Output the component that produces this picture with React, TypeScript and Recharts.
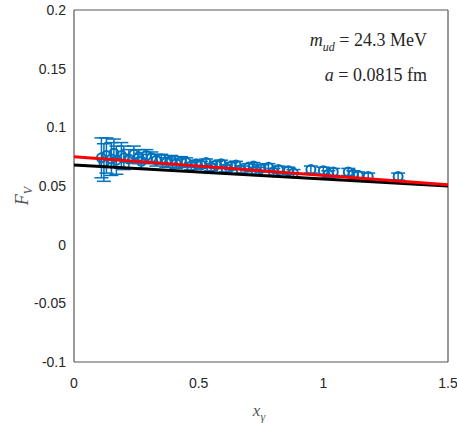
import React from 'react';
import { ScatterChart, Scatter, XAxis, YAxis, ErrorBar } from 'recharts';

const xGamma = [0.11, 0.12, 0.13, 0.15, 0.16, 0.17, 0.19, 0.20, 0.22, 0.24, 0.26, 0.27, 0.29, 0.31, 0.33, 0.35, 0.37, 0.39, 0.41, 0.43, 0.45, 0.47, 0.49, 0.51, 0.53, 0.55, 0.57, 0.59, 0.61, 0.63, 0.65, 0.67, 0.70, 0.72, 0.73, 0.75, 0.78, 0.80, 0.82, 0.86, 0.88, 0.95, 1.00, 1.02, 1.04, 1.10, 1.12, 1.14, 1.18, 1.30];
const fV = [0.074, 0.070, 0.076, 0.073, 0.078, 0.072, 0.076, 0.074, 0.073, 0.077, 0.075, 0.071, 0.076, 0.074, 0.072, 0.073, 0.070, 0.072, 0.069, 0.071, 0.070, 0.067, 0.069, 0.068, 0.070, 0.066, 0.068, 0.069, 0.065, 0.067, 0.068, 0.064, 0.066, 0.067, 0.063, 0.065, 0.066, 0.062, 0.064, 0.063, 0.061, 0.064, 0.063, 0.060, 0.062, 0.062, 0.060, 0.059, 0.058, 0.058];
const fVErr = [0.017, 0.016, 0.015, 0.014, 0.012, 0.012, 0.011, 0.010, 0.008, 0.007, 0.006, 0.006, 0.005, 0.005, 0.005, 0.004, 0.004, 0.004, 0.004, 0.004, 0.004, 0.003, 0.003, 0.003, 0.003, 0.003, 0.003, 0.003, 0.003, 0.003, 0.003, 0.003, 0.003, 0.003, 0.003, 0.003, 0.003, 0.003, 0.003, 0.003, 0.003, 0.003, 0.003, 0.003, 0.003, 0.003, 0.003, 0.003, 0.003, 0.003];

const redFitX = [0, 1.5];
const redFitY = [0.075, 0.051];
const blackFitX = [0, 1.5];
const blackFitY = [0.068, 0.050];

const xTicks = [0, 0.5, 1, 1.5];
const yTicks = [-0.1, -0.05, 0, 0.05, 0.1, 0.15, 0.2];
const xTickLabels = ['0', '0.5', '1', '1.5'];
const yTickLabels = ['-0.1', '-0.05', '0', '0.05', '0.1', '0.15', '0.2'];

const points = xGamma.map((x, i) => ({ x, y: fV[i], e: fVErr[i] }));
const redLine = redFitX.map((x, i) => ({ x, y: redFitY[i] }));
const blackLine = blackFitX.map((x, i) => ({ x, y: blackFitY[i] }));

const AXIS = '#555555';
const TXT = '#262626';
const tickFont = { fontSize: 14, fill: TXT, fontFamily: 'Liberation Sans, Arial, sans-serif' };

const Circle = (props: any) => {
  const { cx, cy } = props;
  if (cx == null || cy == null) return <g />;
  return <circle cx={cx} cy={cy} r={4.5} fill="none" stroke="#0072BD" strokeWidth={2} />;
};
const Nothing = () => <g />;

export default function App() {
  return (
    <div style={{ position: 'absolute', left: 0, top: 0, width: 457, height: 423, background: '#fff' }}>
      <ScatterChart width={457} height={423} margin={{ top: 10, right: 9, bottom: 0, left: 0 }}>
        <XAxis xAxisId="b" type="number" dataKey="x" domain={[0, 1.5]} allowDataOverflow ticks={xTicks}
          tickFormatter={(v: number) => xTickLabels[xTicks.indexOf(v)] ?? String(v)}
          tickLine={false} tickMargin={10} height={61} axisLine={{ stroke: AXIS, strokeWidth: 1.2 }} tick={tickFont} />
        <XAxis xAxisId="bm" type="number" orientation="bottom" mirror domain={[0, 1.5]} allowDataOverflow ticks={xTicks}
          tick={false} tickSize={4} axisLine={false} tickLine={{ stroke: AXIS }} />
        <XAxis xAxisId="t" type="number" orientation="top" mirror domain={[0, 1.5]} allowDataOverflow ticks={xTicks}
          tick={false} tickSize={4} axisLine={{ stroke: AXIS, strokeWidth: 1.2 }} tickLine={{ stroke: AXIS }} />
        <YAxis yAxisId="l" type="number" dataKey="y" domain={[-0.1, 0.2]} allowDataOverflow ticks={yTicks}
          tickFormatter={(v: number) => yTickLabels[yTicks.indexOf(v)] ?? String(v)}
          tickLine={false} width={74} axisLine={{ stroke: AXIS, strokeWidth: 1.2 }} tick={tickFont} />
        <YAxis yAxisId="lm" type="number" orientation="left" mirror domain={[-0.1, 0.2]} allowDataOverflow ticks={yTicks}
          tick={false} tickSize={4} axisLine={false} tickLine={{ stroke: AXIS }} />
        <YAxis yAxisId="r" type="number" orientation="right" mirror domain={[-0.1, 0.2]} allowDataOverflow ticks={yTicks}
          tick={false} tickSize={4} axisLine={{ stroke: AXIS, strokeWidth: 1.2 }} tickLine={{ stroke: AXIS }} />
        <Scatter xAxisId="b" yAxisId="l" data={points} shape={Circle} isAnimationActive={false}>
          <ErrorBar dataKey="e" direction="y" width={7} stroke="#0072BD" strokeWidth={1.5} />
        </Scatter>
        <Scatter xAxisId="b" yAxisId="l" data={blackLine} shape={Nothing} line={{ stroke: '#000000', strokeWidth: 3 }} isAnimationActive={false} />
        <Scatter xAxisId="b" yAxisId="l" data={redLine} shape={Nothing} line={{ stroke: '#FF0000', strokeWidth: 3 }} isAnimationActive={false} />
      </ScatterChart>
      <div style={{ position: 'absolute', left: 24, top: 196, transform: 'translate(-50%, -50%) rotate(-90deg)', fontFamily: 'Liberation Serif, serif', fontStyle: 'italic', fontSize: 18, color: '#555', whiteSpace: 'nowrap' }}>
        F<sub style={{ fontSize: 12 }}>V</sub>
      </div>
      <div style={{ position: 'absolute', left: 259, top: 413, transform: 'translate(-50%, -50%)', fontFamily: 'Liberation Serif, serif', fontStyle: 'italic', fontSize: 17, color: '#555', whiteSpace: 'nowrap' }}>
        x<sub style={{ fontSize: 12 }}>γ</sub>
      </div>
      <div style={{ position: 'absolute', right: 30, top: 26, textAlign: 'right', fontFamily: 'Liberation Serif, serif', fontSize: 18, color: TXT, whiteSpace: 'nowrap', lineHeight: '28px' }}>
        <div><i>m</i><sub style={{ fontSize: 12, fontStyle: 'italic' }}>ud</sub> = 24.3 MeV</div>
        <div><i>a</i> = 0.0815 fm</div>
      </div>
    </div>
  );
}
